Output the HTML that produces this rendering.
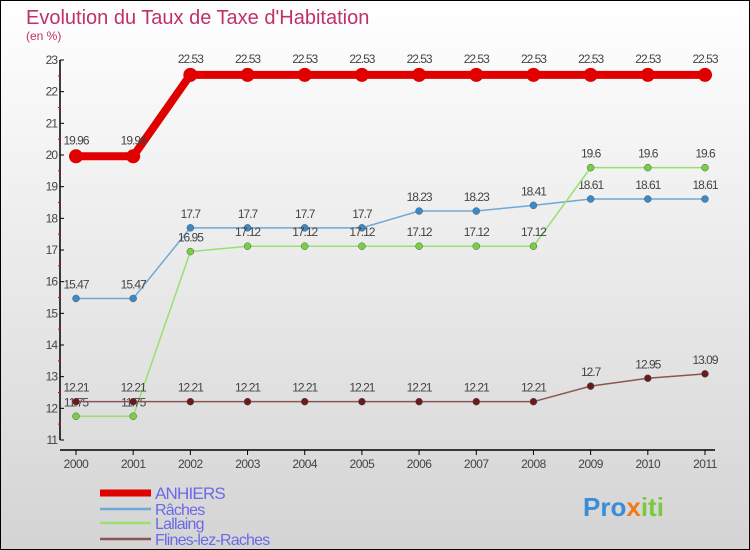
<!DOCTYPE html>
<html><head><meta charset="utf-8"><style>
body{margin:0}
#c{width:750px;height:550px;position:relative;overflow:hidden;font-family:"Liberation Sans",sans-serif}
</style></head><body>
<div id="c">
<svg id="s" width="750" height="550" xmlns="http://www.w3.org/2000/svg">
<defs><linearGradient id="bg" x1="0" y1="0" x2="0" y2="1"><stop offset="0" stop-color="#ffffff"/><stop offset="1" stop-color="#d4d4d4"/></linearGradient></defs>
<rect x="0.5" y="0.5" width="749" height="549" fill="url(#bg)" stroke="#000"/>
<text x="26" y="24" font-size="20" fill="#c0306a">Evolution du Taux de Taxe d'Habitation</text>
<text x="26" y="40" font-size="12" fill="#c0306a">(en %)</text>
<g id="axes"></g><g id="series"></g><g id="legend"></g>
<text x="583" y="516" font-size="26" font-weight="bold" fill="#3a8ed8">Pro<tspan fill="#f07a1a">x</tspan><tspan fill="#7ac943">iti</tspan></text>
</svg>
</div>
<script>
const years=[2000,2001,2002,2003,2004,2005,2006,2007,2008,2009,2010,2011];
const yTicks=[11,12,13,14,15,16,17,18,19,20,21,22,23];
const anhiers=[19.96,19.96,22.53,22.53,22.53,22.53,22.53,22.53,22.53,22.53,22.53,22.53];
const raches=[15.47,15.47,17.7,17.7,17.7,17.7,18.23,18.23,18.41,18.61,18.61,18.61];
const lallaing=[11.75,11.75,16.95,17.12,17.12,17.12,17.12,17.12,17.12,19.6,19.6,19.6];
const flines=[12.21,12.21,12.21,12.21,12.21,12.21,12.21,12.21,12.21,12.7,12.95,13.09];
const names=["ANHIERS","Râches","Lallaing","Flines-lez-Raches"];
const NS="http://www.w3.org/2000/svg";
const X=i=>76+i*(705-76)/11, Y=v=>440-(v-11)*(380/12);
function mk(t,a,p){const e=document.createElementNS(NS,t);for(const k in a)e.setAttribute(k,a[k]);p.appendChild(e);return e;}
const ax=document.getElementById('axes');
let e=mk('line',{x1:60,y1:Y(23),x2:60,y2:Y(11),stroke:'#000','stroke-width':1.5},ax);

e=mk('line',{x1:60,y1:450,x2:715,y2:450,stroke:'#000','stroke-width':1.5},ax);

yTicks.forEach(v=>{mk('line',{x1:60,y1:Y(v),x2:64,y2:Y(v),stroke:'#000'},ax);
 if(v<23)mk('line',{x1:58,y1:Y(v+0.5),x2:61,y2:Y(v+0.5),stroke:'#e00'},ax);
 const t=mk('text',{x:57,y:Y(v)+4,'text-anchor':'end','font-size':12,fill:'#444','letter-spacing':'-1'},ax);t.textContent=v;
 });
years.forEach((y,i)=>{mk('line',{x1:X(i),y1:450,x2:X(i),y2:455,stroke:'#000'},ax);
 const t=mk('text',{x:X(i),y:468,'text-anchor':'middle','font-size':12,fill:'#444','letter-spacing':'-0.5'},ax);t.textContent=y;
 });
const sg=document.getElementById('series');
const defs=[[anhiers,'#e00000',8,7,'#e00000','anhiers'],[raches,'#6fa8d6',1.5,3.5,'#3a8ac8','raches'],[lallaing,'#99e070',1.5,3.5,'#77d040','lallaing'],[flines,'#8b5555',1.5,3.5,'#6a1a1a','flines']];
const off={anhiers:-12,raches:-10,lallaing:-10,flines:-10};
defs.forEach(([d,c,w,r,fc,n])=>{
 const p=mk('polyline',{points:d.map((v,i)=>X(i)+','+Y(v)).join(' '),fill:'none',stroke:c,'stroke-width':w},sg);
 
 d.forEach((v,i)=>{const q=mk('circle',{cx:X(i),cy:Y(v),r:r,fill:fc,stroke:n=='anhiers'?'none':'#5a5a5a','stroke-width':0.5},sg);
  
  const t=mk('text',{x:X(i),y:Y(v)+off[n],'text-anchor':'middle','font-size':12,fill:'#444','letter-spacing':'-1'},sg);t.textContent=v;
  });
});
const lg=document.getElementById('legend');
defs.forEach(([d,c,w],i)=>{const yy=[493,509,523,539][i];
 mk('line',{x1:100,y1:yy,x2:151,y2:yy,stroke:c,'stroke-width':i==0?7:2.5},lg);
 const t=mk('text',{x:155,y:yy+6,'font-size':i==0?17:16,fill:'#6a6ae8','letter-spacing':'-0.8'},lg);t.textContent=names[i];
 });
</script>
</body></html>
